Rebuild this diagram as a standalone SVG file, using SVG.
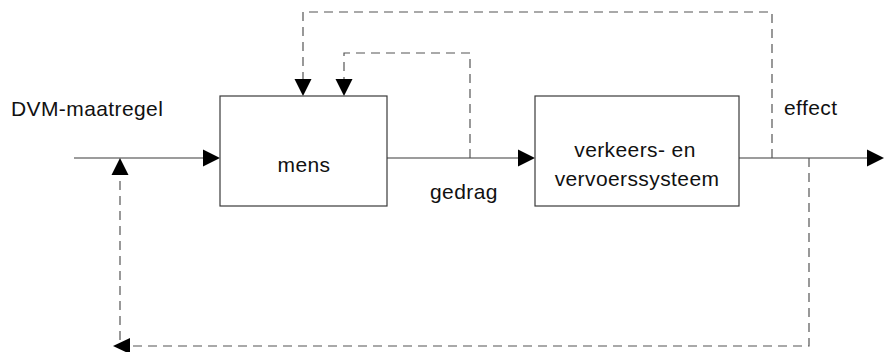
<svg xmlns="http://www.w3.org/2000/svg" width="885" height="352" viewBox="0 0 885 352">
  <style>
    .box { fill: #ffffff; stroke: #3a3a3a; stroke-width: 1.2; }
    .flow { fill: none; stroke: #3a3a3a; stroke-width: 1.2; }
    .fb { fill: none; stroke: #555555; stroke-width: 1.2; stroke-dasharray: 9 6; }
    .head { fill: #000000; }
    .lbl { font-family: "Liberation Sans", Arial, sans-serif; font-size: 21px; letter-spacing: 0.4px; fill: #111111; }
  </style>
  <rect width="885" height="352" fill="#ffffff"/>

  <g id="connectors">
    <!-- input: DVM-maatregel into mens -->
    <line class="flow" x1="74" y1="158" x2="205" y2="158"/>
    <polygon class="head" points="220,158 203,149.5 203,166.5"/>
    <!-- gedrag: mens into verkeers- en vervoerssysteem -->
    <line class="flow" x1="387" y1="158" x2="520" y2="158"/>
    <polygon class="head" points="535,158 518,149.5 518,166.5"/>
    <!-- effect output -->
    <line class="flow" x1="739" y1="158" x2="869" y2="158"/>
    <polygon class="head" points="884,158 867,149.5 867,166.5"/>

    <!-- inner feedback: gedrag back to mens -->
    <polyline class="fb" points="470,158 470,53 344,53 344,80"/>
    <polygon class="head" points="344,96 335.5,79 352.5,79"/>
    <!-- outer feedback: effect back to mens -->
    <polyline class="fb" points="772,158 772,12 303,12 303,80"/>
    <polygon class="head" points="303,96 294.5,79 311.5,79"/>
    <!-- long feedback: effect back to the input -->
    <polyline class="fb" points="809,158 809,346 130,346"/>
    <polygon class="head" points="113,346 130,338 130,354"/>
    <line class="fb" x1="120" y1="340" x2="120" y2="175"/>
    <polygon class="head" points="120,158 111.5,175 128.5,175"/>
  </g>

  <g id="node-mens">
    <rect class="box" x="220" y="96" width="167" height="110"/>
    <text class="lbl" x="304" y="172" text-anchor="middle">mens</text>
  </g>

  <g id="node-systeem">
    <rect class="box" x="535" y="96" width="204" height="110"/>
    <text class="lbl" x="635" y="157" text-anchor="middle">verkeers- en</text>
    <text class="lbl" x="637" y="186" text-anchor="middle">vervoerssysteem</text>
  </g>

  <g id="labels">
    <text class="lbl" x="11" y="116">DVM-maatregel</text>
    <text class="lbl" x="430" y="199">gedrag</text>
    <text class="lbl" x="784" y="115">effect</text>
  </g>
</svg>
